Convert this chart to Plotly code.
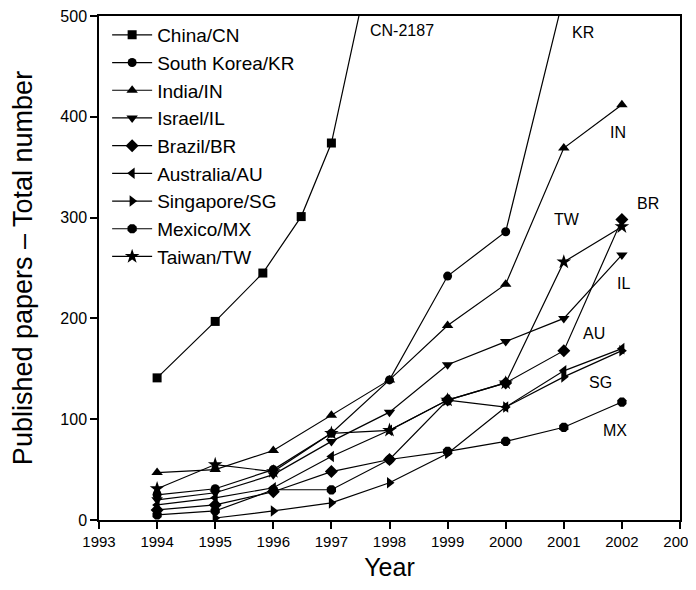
import plotly.graph_objects as go

years = [1994, 1995, 1996, 1997, 1998, 1999, 2000, 2001, 2002]

# China points (x positions)
cn_x = [1994, 1995, 1995.82, 1996.48, 1997, 1998, 2002]
cn_y = [141, 197, 245, 301, 374, 640, 2187]

kr_x = [1994, 1995, 1996, 1997, 1998, 1999, 2000, 2001]
kr_y = [25, 31, 50, 86, 139, 242, 286, 520]

in_y = [47, 50, 69, 104, 139, 193, 234, 369, 412]
il_y = [20, 27, 45, 78, 107, 154, 177, 200, 263]
br_y = [10, 15, 28, 48, 60, 119, 136, 168, 298]
au_y = [15, 22, 32, 63, 89, 119, 112, 148, 170]
sg_y = [None, 2, 9, 17, 37, 66, 112, 142, 168]
mx_y = [5, 9, 30, 30, 60, 68, 78, 92, 117]
tw_y = [31, 55, 48, 86, 89, 119, 136, 256, 291]

names = ["China/CN", "South Korea/KR", "India/IN", "Israel/IL", "Brazil/BR",
         "Australia/AU", "Singapore/SG", "Mexico/MX", "Taiwan/TW"]
symbols = ["square", "circle", "triangle-up", "triangle-down", "diamond",
           "triangle-left", "triangle-right", "octagon", "star"]
xs = [cn_x, kr_x, years, years, years, years, years, years, years]
ys = [cn_y, kr_y, in_y, il_y, br_y, au_y, sg_y, mx_y, tw_y]
sizes = [9, 9, 10, 10, 10, 10, 10, 10, 11]

# end labels
lab_text = ["CN-2187", "KR", "IN", "BR", "TW", "IL", "AU", "SG", "MX"]
lab_x = [1998.21, 2001.33, 2001.93, 2002.45, 2001.06, 2002.02, 2001.52, 2001.64, 2001.88]
lab_y = [486, 484, 384, 314, 298, 235, 185, 136, 89]

FONT = "Liberation Sans, Arial, sans-serif"

fig = go.Figure()
for i in range(len(names)):
    fig.add_trace(go.Scatter(
        x=xs[i], y=ys[i], name=names[i], mode="lines+markers",
        line=dict(color="black", width=1.2),
        marker=dict(symbol=symbols[i], size=sizes[i], color="black"),
        connectgaps=False, cliponaxis=True,
    ))

for t, x, y in zip(lab_text, lab_x, lab_y):
    fig.add_annotation(x=x, y=y, text=t, showarrow=False,
                       font=dict(family=FONT, size=16, color="black"))

fig.update_layout(
    width=696, height=590,
    margin=dict(l=91, r=24, t=8, b=78),
    paper_bgcolor="white", plot_bgcolor="white",
    font=dict(family=FONT, color="black"),
    showlegend=True,
    legend=dict(x=0.014, y=1, xanchor="left", yanchor="top",
                bgcolor="rgba(0,0,0,0)", borderwidth=0,
                font=dict(family=FONT, size=19, color="black"),
                itemwidth=40),
)
fig.update_xaxes(range=[1993, 2003], dtick=1, tick0=1993, showgrid=False, zeroline=False,
                 showline=True, linecolor="black", linewidth=1.5, mirror=True,
                 ticks="outside", ticklen=7, tickwidth=1.5, tickcolor="black",
                 tickfont=dict(family=FONT, size=15), automargin=False,
                 ticklabeloverflow="allow",
                 title=dict(text="Year", font=dict(family=FONT, size=25), standoff=10))
fig.update_yaxes(range=[0, 500], dtick=100, showgrid=False, zeroline=False,
                 showline=True, linecolor="black", linewidth=1.5, mirror=True,
                 ticks="outside", ticklen=7, tickwidth=1.5, tickcolor="black",
                 tickfont=dict(family=FONT, size=16), automargin=False,
                 ticklabeloverflow="allow",
                 title=dict(text="Published papers \u2013 Total number",
                            font=dict(family=FONT, size=27), standoff=24))

fig.write_html("out.html")
